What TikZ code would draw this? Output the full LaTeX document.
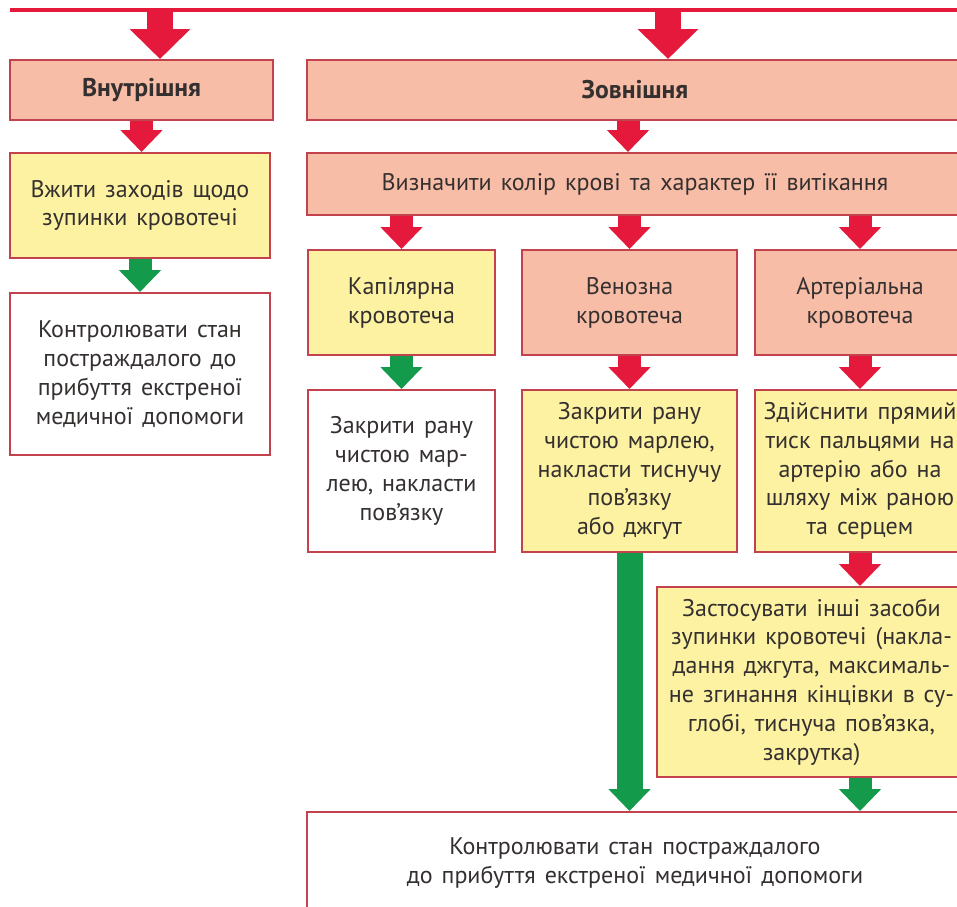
\documentclass[tikz,border=0pt]{standalone}
\usepackage{fontspec}
\setmainfont{PT Sans}[WordSpace=1.4]
\usepackage{tikz}
\usetikzlibrary{arrows.meta}
\definecolor{blood}{HTML}{E5193B}
\definecolor{leaf}{HTML}{139A4B}
\definecolor{salmon}{HTML}{F8BDA7}
\definecolor{lemon}{HTML}{FCF2A2}
\definecolor{rim}{HTML}{C2434E}
\definecolor{ink}{HTML}{353030}

\tikzset{
  box/.style={draw=rim, line width=1pt, inner sep=0pt, align=center, text=ink,
              font=\fontsize{12}{14.4}\selectfont},
  hdrbox/.style={box, fill=salmon, font=\fontsize{12.8}{15}\selectfont\bfseries},
  pinkbox/.style={box, fill=salmon},
  yelbox/.style={box, fill=lemon},
  whitebox/.style={box, fill=white},
  bigarrow/.style={line width=13pt, -{Triangle[width=29.5pt,length=15pt]}},
  midarrow/.style={line width=11.5pt, -{Triangle[width=20.5pt,length=11pt]}},
}

\begin{document}
\begin{tikzpicture}[x=0.5pt, y=-0.5pt]
  \useasboundingbox (0,0) rectangle (957,906);
  \clip (0,0) rectangle (957,906);
  % top bar
  \coordinate (barL) at (10,10);
  \coordinate (barR) at (975,10);
  \draw[blood, line width=2pt] (barL) -- (barR);
  % left column
  \node[hdrbox, minimum width=131.5pt, minimum height=30pt] (inner) at (141.5,90) {Внутрішня};
  \node[yelbox, minimum width=130pt, minimum height=52.5pt] (stopin) at (140,205.5)
    {Вжити заходів щодо\\зупинки кровотечі};
  \node[whitebox, minimum width=130pt, minimum height=81pt] (watchin) at (140,374)
    {Контролювати стан\\постраждалого до\\прибуття екстреної\\медичної допомоги};
  % right part
  \node[hdrbox, minimum width=328pt, minimum height=30pt] (outer) at (635,90) {Зовнішня};
  \node[pinkbox, minimum width=328pt, minimum height=31pt] (colour) at (635,184)
    {Визначити колір крові та характер її витікання};
  \node[yelbox, minimum width=93.5pt, minimum height=52.5pt] (capil) at (401.5,302.5)
    {Капілярна\\кровотеча};
  \node[pinkbox, minimum width=107.5pt, minimum height=52.5pt] (venous) at (629.5,302.5)
    {Венозна\\кровотеча};
  \node[pinkbox, minimum width=105pt, minimum height=52.5pt] (arter) at (860,302.5)
    {Артеріальна\\кровотеча};
  \node[whitebox, minimum width=93.5pt, minimum height=81pt] (capact) at (401.5,471)
    {Закрити рану\\чистою мар-\\лею, накласти\\пов’язку};
  \node[yelbox, minimum width=107.5pt, minimum height=81pt] (venact) at (629.5,471)
    {Закрити рану\\чистою марлею,\\накласти тиснучу\\пов’язку\\або джгут};
  \node[yelbox, minimum width=105pt, minimum height=81pt] (artact) at (860,471)
    {Здійснити прямий\\тиск пальцями на\\артерію або на\\шляху між раною\\та серцем};
  \node[yelbox, minimum width=154.5pt, minimum height=95pt] (other) at (811.5,682)
    {Застосувати інші засоби\\зупинки кровотечі (накла-\\дання джгута, максималь-\\не згинання кінцівки в су-\\глобі, тиснуча пов’язка,\\закрутка)};
  \node[whitebox, minimum width=328pt, minimum height=51pt] (watchout) at (635,863)
    {Контролювати стан постраждалого\\до прибуття екстреної медичної допомоги};
  % arrows
  \coordinate (tl) at (160,10);
  \coordinate (tr) at (668,10);
  \coordinate (split) at ([xshift=-3.5pt]outer.south);
  \draw[bigarrow, blood] (tl) -- (tl |- inner.north);
  \draw[bigarrow, blood] (tr) -- (tr |- outer.north);
  \draw[midarrow, blood] (inner.south) -- (inner.south |- stopin.north);
  \draw[midarrow, leaf] (stopin.south) -- (watchin.north);
  \draw[midarrow, blood] (split) -- (split |- colour.north);
  \draw[midarrow, blood] (capil.north |- colour.south) -- (capil.north);
  \draw[midarrow, blood] (venous.north |- colour.south) -- (venous.north);
  \draw[midarrow, blood] (arter.north |- colour.south) -- (arter.north);
  \draw[midarrow, leaf] (capil.south) -- (capact.north);
  \draw[midarrow, blood] (venous.south) -- (venact.north);
  \draw[midarrow, blood] (arter.south) -- (artact.north);
  \draw[midarrow, blood] (artact.south) -- (artact.south |- other.north);
  \draw[midarrow, leaf, line width=13pt] (venact.south) -- (venact.south |- watchout.north);
  \draw[midarrow, leaf] (artact.south |- other.south) -- (artact.south |- watchout.north);
\end{tikzpicture}
\end{document}
